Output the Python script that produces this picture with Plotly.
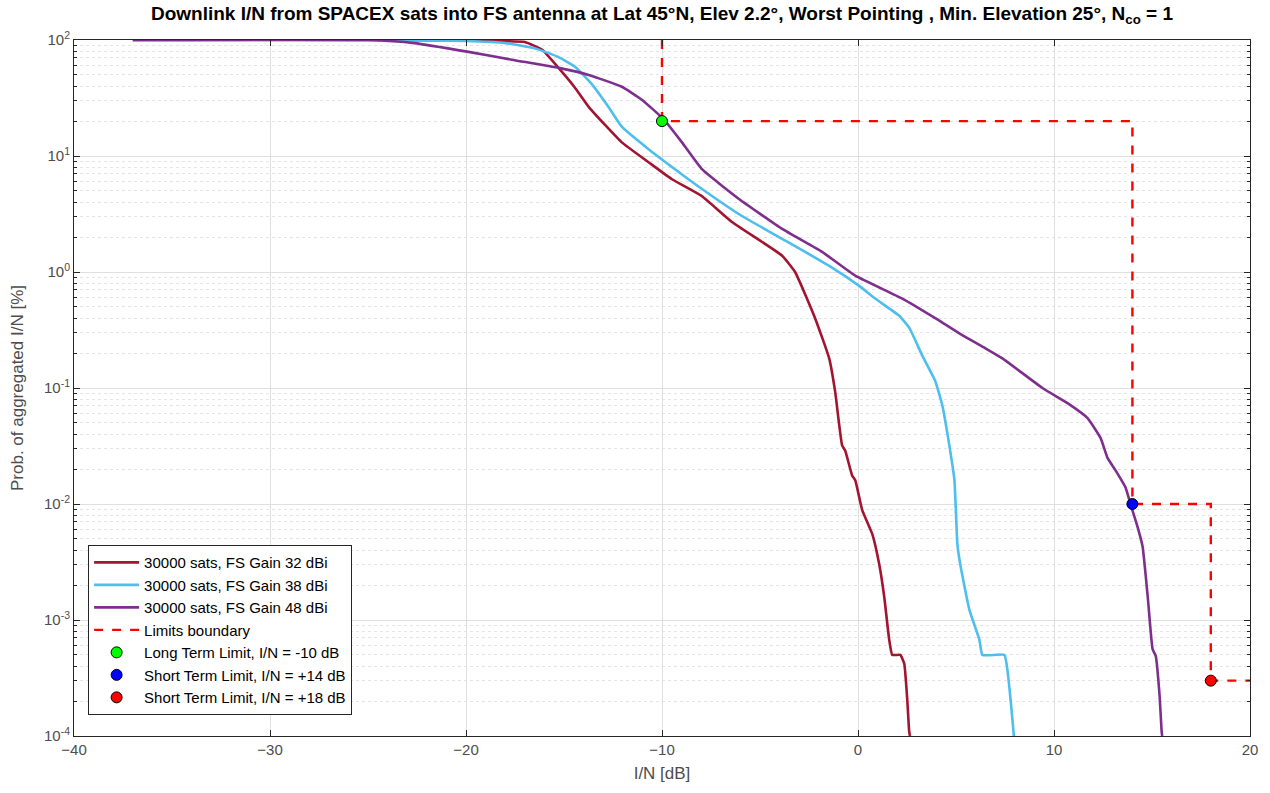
import plotly.graph_objects as go

# ---------------- data ----------------
x_32 = [-37, -24, -19.5, -18.7, -17.0, -16.1, -15.3, -14.45, -13.7, -12.05, -10.67, -9.49,
        -7.96, -6.43, -3.87, -3.21, -2.19, -1.47, -1.17, -0.81, -0.65, -0.30, -0.14, 0.22,
        0.73, 1.08, 1.34, 1.59, 1.75, 2.16, 2.36, 2.51, 2.61, 2.65]
p_32 = [100, 100, 99, 98, 96, 82, 58, 39, 26, 13.1, 8.8, 6.3,
        4.5, 2.7, 1.38, 1.0, 0.4, 0.18, 0.094, 0.032, 0.0288, 0.0176, 0.016, 0.0088,
        0.0055, 0.00304, 0.00158, 0.00068, 0.0005, 0.0005, 0.00042, 0.00021, 0.00011, 0.0001]

x_38 = [-37, -24, -20, -18, -16.5, -15.3, -14.45, -13.6, -12.7, -12.05, -10.67, -9.34,
        -7.96, -5.92, -3.87, -1.47, 0.06, 0.88, 2.10, 2.62, 3.28, 3.94, 4.30, 4.66,
        4.92, 5.07, 5.22, 5.68, 6.19, 6.35, 7.47, 7.62, 7.78, 7.93, 7.95]
p_38 = [100, 100, 98, 94, 85, 71.5, 59, 42, 26, 17.9, 11.4, 7.7,
        5.2, 3.04, 1.93, 1.13, 0.76, 0.59, 0.42, 0.33, 0.19, 0.115, 0.071, 0.032,
        0.016, 0.0045, 0.003, 0.00123, 0.00068, 0.0005, 0.0005, 0.000375, 0.00021, 0.00011, 0.0001]

x_48 = [-37, -25, -22.63, -19.87, -17.52, -15.27, -13.74, -12.05, -11.03, -9.9, -8.98, -7.96,
        -6.07, -3.87, -1.83, -0.14, 2.26, 3.94, 5.32, 6.5, 7.37, 9.41, 10.69, 11.71,
        12.38, 12.73, 13.14, 13.65, 13.91, 14.27, 14.52, 14.78, 15.03, 15.19, 15.39, 15.49, 15.52]
p_48 = [100, 100, 94, 79, 67, 57.5, 50, 39.5, 30.6, 20.6, 13.1, 7.7,
        4.26, 2.35, 1.49, 0.93, 0.59, 0.4, 0.285, 0.22, 0.18, 0.1, 0.074, 0.055,
        0.037, 0.025, 0.0195, 0.0139, 0.0099, 0.0063, 0.0043, 0.0016, 0.00056, 0.00049, 0.00022, 0.00011, 0.0001]

x_limits = [-10, -10, 14, 14, 18, 18, 20]
p_limits = [100, 20, 20, 0.01, 0.01, 3e-4, 3e-4]

lt_x, lt_p = [-10], [20]
st14_x, st14_p = [14], [0.01]
st18_x, st18_p = [18], [3e-4]

series_names = ["30000 sats, FS Gain 32 dBi", "30000 sats, FS Gain 38 dBi", "30000 sats, FS Gain 48 dBi"]
x_ticks = [-40, -30, -20, -10, 0, 10, 20]
y_exps = [-4, -3, -2, -1, 0, 1, 2]
y_ticks = [10.0 ** e for e in y_exps]
y_ticktext = ["10<sup>%d</sup>" % e for e in y_exps]
y_minor = [k * 10.0 ** e for e in range(-4, 2) for k in range(2, 10)]

# ---------------- figure ----------------
fig = go.Figure()
colors = ["#A2142F", "#4DBEEE", "#7E2F8E"]
for xs, ps, name, c in zip([x_32, x_38, x_48], [p_32, p_38, p_48], series_names, colors):
    fig.add_trace(go.Scatter(x=xs, y=ps, mode="lines", name=name,
                             line=dict(color=c, width=2.6, shape="spline", smoothing=0.4)))

fig.add_trace(go.Scatter(x=x_limits, y=p_limits, mode="lines", name="Limits boundary",
                         line=dict(color="#FF0000", width=2.4, dash="dash")))

for xs, ps, name, c in [(lt_x, lt_p, "Long Term Limit, I/N = -10 dB", "#00FF00"),
                        (st14_x, st14_p, "Short Term Limit, I/N = +14 dB", "#0000FF"),
                        (st18_x, st18_p, "Short Term Limit, I/N = +18 dB", "#FF0000")]:
    fig.add_trace(go.Scatter(x=xs, y=ps, mode="markers", name=name,
                             marker=dict(color=c, size=11, line=dict(color="#000000", width=1))))

axis_common = dict(
    showline=True, linecolor="#262626", linewidth=1, mirror="allticks",
    ticks="inside", ticklen=6, tickcolor="#262626",
    tickfont=dict(family="Liberation Sans, Arial", size=15, color="#4D4D4D"),
    showgrid=True, gridcolor="#DFDFDF", gridwidth=1, zeroline=False,
)

fig.update_layout(
    width=1270, height=793,
    paper_bgcolor="white", plot_bgcolor="white",
    margin=dict(l=74, r=20, t=40, b=57),
    font=dict(family="Liberation Sans, Arial", color="#262626"),
    title=dict(
        text="<b>Downlink I/N from SPACEX sats into FS antenna at Lat 45°N, Elev 2.2°, Worst Pointing , Min. Elevation 25°, N<sub>co</sub> = 1</b>",
        x=0.5, xref="paper", xanchor="center", y=0.992, yanchor="top",
        font=dict(size=19, color="#000000"),
    ),
    xaxis=dict(range=[-40, 20], tickvals=x_ticks,
               title=dict(text="I/N [dB]", font=dict(size=17, color="#4D4D4D"), standoff=10),
               **axis_common),
    yaxis=dict(type="log", range=[-4, 2], tickvals=y_ticks, ticktext=y_ticktext,
               title=dict(text="Prob. of aggregated I/N [%]", font=dict(size=17, color="#4D4D4D"), standoff=16),
               minor=dict(tickvals=y_minor, ticks="inside", ticklen=3, tickcolor="#262626",
                          showgrid=True, gridcolor="#E4E4E4", griddash="dot", gridwidth=1),
               **axis_common),
    legend=dict(x=0.012, y=0.03, xanchor="left", yanchor="bottom",
                bgcolor="white", bordercolor="#262626", borderwidth=1,
                font=dict(size=15, color="#000000"), tracegroupgap=0,
                itemwidth=45),
    showlegend=True,
)

fig.write_html("out.html")
